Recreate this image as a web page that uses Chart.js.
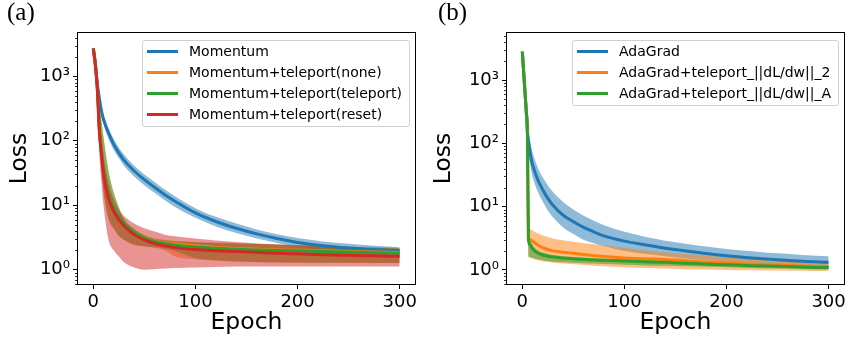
<!DOCTYPE html>
<html>
<head>
<meta charset="utf-8">
<script src="https://cdn.jsdelivr.net/npm/chart.js@4.4.1/dist/chart.umd.min.js"></script>
<style>
  body { margin: 0; background: #fff; }
  #wrap { position: relative; width: 849px; height: 337px; background: #fff; }
  canvas { position: absolute; top: 0; }
  .tag { position: absolute; top: -1px; font-family: "Liberation Serif", serif; font-size: 25px; line-height: 25px; color: #000; }
  .legend { position: absolute; top: 40px; border: 1px solid #d0d0d0; border-radius: 3px; background: rgba(255,255,255,0.8); padding-bottom: 1px; font-family: "DejaVu Sans", sans-serif; font-size: 14px; color: #000; }
  .legend .row { height: 21px; line-height: 21px; white-space: nowrap; display: flex; align-items: center; }
  .legend .sw { width: 31px; height: 3px; margin: 0 11px 0 4px; flex: none; }
</style>
</head>
<body>
<div id="wrap">
  <canvas id="chartA" width="424" height="337" style="left:0"></canvas>
  <canvas id="chartB" width="425" height="337" style="left:424px"></canvas>
  <div class="tag" style="left:7px">(a)</div>
  <div class="tag" style="left:438px">(b)</div>
  <div class="legend" id="legendA" style="left:142px;width:266px"></div>
  <div class="legend" id="legendB" style="left:572px;width:265px"></div>
</div>
<script>
"use strict";

// ---- data ----
const colors = ["#1f77b4", "#ff7f0e", "#2ca02c", "#d62728"];
const bandColors = ["rgba(31,119,180,0.5)", "rgba(255,127,14,0.5)", "rgba(44,160,44,0.5)", "rgba(214,39,40,0.5)"];

const xTicks = [0, 100, 200, 300];
const yTicks = [1, 10, 100, 1000];
const yTickLabels = ["10\u2070", "10\u00b9", "10\u00b2", "10\u00b3"];

// panel (a)
const namesA = ["Momentum", "Momentum+teleport(none)", "Momentum+teleport(teleport)", "Momentum+teleport(reset)"];
const epochsA = [0, 2, 4, 6, 8, 10, 15, 20, 25, 30, 40, 50, 60, 70, 80, 100, 120, 140, 160, 180, 200, 225, 250, 275, 300];
const momentum   = [2700, 1600, 750, 450, 290, 215, 130, 88, 65, 50, 34, 25, 19, 14.5, 11.5, 7.6, 5.6, 4.4, 3.6, 3.05, 2.65, 2.35, 2.17, 2.05, 1.96];
const momentumHi = [2900, 1750, 850, 520, 340, 255, 156, 106, 79, 61, 41, 30, 23, 17.5, 13.8, 9.0, 6.6, 5.2, 4.2, 3.55, 3.1, 2.75, 2.53, 2.36, 2.22];
const momentumLo = [2500, 1450, 650, 390, 245, 180, 108, 72, 54, 41, 28, 20.5, 15.6, 11.9, 9.4, 6.4, 4.7, 3.7, 3.05, 2.6, 2.28, 2.02, 1.87, 1.78, 1.72];
const none   = [2700, 1500, 650, 150, 70, 36, 14.5, 9, 6.6, 5.3, 3.85, 3.15, 2.8, 2.62, 2.5, 2.35, 2.22, 2.13, 2.07, 2.03, 2.0, 1.96, 1.92, 1.88, 1.85];
const noneHi = [2900, 1900, 1000, 400, 200, 110, 32, 15, 9, 6, 4.2, 3.4, 3.0, 2.85, 2.75, 2.65, 2.6, 2.55, 2.5, 2.45, 2.4, 2.33, 2.27, 2.2, 2.15];
const noneLo = [2500, 1300, 500, 90, 35, 16, 6, 4.3, 3.3, 2.9, 2.42, 2.3, 2.2, 2.0, 1.6, 1.45, 1.38, 1.33, 1.3, 1.29, 1.28, 1.28, 1.27, 1.27, 1.27];
const teleport   = [2700, 1500, 650, 150, 70, 36, 14.5, 9, 6.6, 5.3, 3.8, 3.1, 2.75, 2.55, 2.4, 2.25, 2.15, 2.08, 2.03, 1.99, 1.96, 1.92, 1.88, 1.84, 1.8];
const teleportHi = [2900, 1900, 1000, 420, 210, 115, 34, 16, 9.5, 6.2, 4.3, 3.45, 3.05, 2.9, 2.8, 2.7, 2.62, 2.57, 2.52, 2.47, 2.42, 2.35, 2.28, 2.22, 2.17];
const teleportLo = [2500, 1300, 500, 95, 38, 17, 6.3, 4.4, 3.4, 2.95, 2.45, 2.32, 2.22, 2.12, 1.95, 1.5, 1.4, 1.35, 1.32, 1.3, 1.29, 1.28, 1.28, 1.27, 1.27];
const reset   = [2700, 1500, 600, 130, 60, 30, 12.5, 8, 6, 4.8, 3.5, 2.9, 2.55, 2.35, 2.2, 2.05, 1.97, 1.92, 1.86, 1.8, 1.76, 1.71, 1.67, 1.64, 1.61];
const resetHi = [2900, 1800, 800, 250, 110, 60, 22, 12.5, 8.5, 6.8, 5.2, 4.4, 3.9, 3.5, 3.3, 3.05, 2.85, 2.7, 2.55, 2.45, 2.38, 2.3, 2.22, 2.15, 2.1];
const resetLo = [2500, 1200, 400, 60, 22, 10, 2.9, 2.0, 1.6, 1.3, 1.08, 1.0, 1.02, 1.04, 1.06, 1.08, 1.1, 1.12, 1.12, 1.12, 1.12, 1.12, 1.12, 1.12, 1.12];

// panel (b)
const namesB = ["AdaGrad", "AdaGrad+teleport_||dL/dw||_2", "AdaGrad+teleport_||dL/dw||_A"];
const epochsB = [0, 2, 4, 5, 6, 8, 10, 15, 20, 25, 30, 40, 50, 60, 70, 80, 100, 120, 140, 160, 180, 200, 225, 250, 275, 300];
const adagrad   = [2800, 900, 300, 150, 110, 65, 46, 27, 18.5, 13.5, 10.5, 7.3, 5.8, 4.7, 4.0, 3.45, 2.85, 2.5, 2.2, 2.0, 1.82, 1.68, 1.55, 1.45, 1.37, 1.32];
const adagradHi = [3000, 1000, 350, 230, 170, 100, 72, 42, 29, 21.5, 17, 11.8, 9.0, 7.2, 6.0, 5.1, 4.0, 3.35, 2.9, 2.6, 2.35, 2.15, 1.98, 1.83, 1.73, 1.65];
const adagradLo = [2600, 800, 250, 100, 72, 43, 30, 17.5, 12, 8.7, 6.8, 4.7, 3.7, 3.0, 2.65, 2.4, 2.0, 1.8, 1.65, 1.52, 1.43, 1.36, 1.28, 1.21, 1.16, 1.12];
const tele2   = [2800, 900, 300, 150, 3.2, 3.0, 2.85, 2.5, 2.25, 2.1, 2.0, 1.9, 1.83, 1.75, 1.68, 1.63, 1.55, 1.5, 1.46, 1.4, 1.34, 1.3, 1.24, 1.19, 1.15, 1.13];
const tele2Hi = [3000, 1000, 340, 180, 4.6, 4.4, 4.2, 3.8, 3.5, 3.3, 3.15, 2.95, 2.8, 2.65, 2.55, 2.45, 2.25, 2.05, 1.9, 1.78, 1.68, 1.6, 1.5, 1.42, 1.35, 1.3];
const tele2Lo = [2600, 800, 260, 125, 1.62, 1.55, 1.5, 1.42, 1.37, 1.33, 1.3, 1.26, 1.23, 1.2, 1.17, 1.14, 1.1, 1.07, 1.05, 1.03, 1.02, 1.0, 0.99, 0.98, 0.97, 0.96];
const teleA   = [2800, 900, 300, 150, 3.0, 2.45, 2.15, 1.85, 1.72, 1.65, 1.6, 1.55, 1.5, 1.47, 1.44, 1.42, 1.38, 1.35, 1.32, 1.28, 1.24, 1.21, 1.17, 1.14, 1.11, 1.09];
const teleAHi = [3000, 1000, 340, 180, 3.4, 2.9, 2.5, 2.05, 1.88, 1.78, 1.72, 1.65, 1.6, 1.56, 1.53, 1.5, 1.46, 1.42, 1.39, 1.35, 1.31, 1.28, 1.24, 1.2, 1.17, 1.15];
const teleALo = [2600, 800, 260, 125, 1.65, 1.6, 1.55, 1.47, 1.42, 1.38, 1.35, 1.32, 1.3, 1.28, 1.26, 1.24, 1.21, 1.18, 1.16, 1.14, 1.12, 1.1, 1.07, 1.05, 1.03, 1.02];

// ---- helpers ----
const pts = (xs, ys) => xs.map((x, i) => ({ x: x, y: ys[i] }));

const buildDatasets = function (epochs, series) {
   const sets = [];
   series.forEach((s, i) => {
      // band: lower edge, then upper edge filled down to it
      sets.push({ data: pts(epochs, s.lo), borderWidth: 0, fill: false, order: 200 - 2 * i });
      sets.push({ data: pts(epochs, s.hi), borderWidth: 0, fill: "-1", backgroundColor: bandColors[i], order: 199 - 2 * i });
   });
   series.forEach((s, i) => {
      sets.push({ data: pts(epochs, s.mid), borderColor: colors[i], borderWidth: 3, fill: false, order: 50 - i });
   });
   return sets;
};

// frame + minor log ticks
const framePlugin = {
   id: "frame",
   afterDraw(chart) {
      const { ctx, chartArea: a } = chart;
      const y = chart.scales.y;
      ctx.save();
      ctx.strokeStyle = "#000";
      ctx.lineWidth = 1;
      const l = Math.round(a.left) - 0.5, t = Math.round(a.top) - 0.5;
      const r = Math.round(a.right) + 0.5, b = Math.round(a.bottom) + 0.5;
      ctx.strokeRect(l, t, r - l, b - t);
      ctx.lineWidth = 0.8;
      for (let d = -1; d <= 3; d++) {
         for (let k = 2; k <= 9; k++) {
            const v = k * Math.pow(10, d);
            if (v < y.min || v > y.max) continue;
            const py = Math.round(y.getPixelForValue(v)) + 0.5;
            ctx.beginPath();
            ctx.moveTo(l - 2.5, py);
            ctx.lineTo(l, py);
            ctx.stroke();
         }
      }
      ctx.restore();
   },
};

const makeChart = function (id, datasets, yMin, yMax, yWidth, padRight) {
   const ctx = document.getElementById(id).getContext("2d");
   return new Chart(ctx, {
      type: "line",
      data: { datasets: datasets },
      plugins: [framePlugin],
      options: {
         responsive: false,
         animation: false,
         devicePixelRatio: 1,
         layout: { padding: { top: 33, right: padRight, left: 0, bottom: 0 } },
         elements: { point: { radius: 0 }, line: { cubicInterpolationMode: "monotone" } },
         plugins: { legend: { display: false }, tooltip: { enabled: false } },
         scales: {
            x: {
               type: "linear",
               min: -15,
               max: 315,
               afterBuildTicks: (scale) => { scale.ticks = xTicks.map((v) => ({ value: v })); },
               afterFit: (scale) => { scale.height = 53; },
               border: { display: false },
               grid: { drawOnChartArea: false, drawTicks: true, tickLength: 5, tickColor: "#000" },
               ticks: { color: "#000", padding: 3, maxRotation: 0, font: { family: "DejaVu Sans", size: 18 } },
               title: { display: true, text: "Epoch", color: "#000", padding: { top: 0, bottom: 0 }, font: { family: "DejaVu Sans", size: 23.5 } },
            },
            y: {
               type: "logarithmic",
               min: yMin,
               max: yMax,
               afterBuildTicks: (scale) => { scale.ticks = yTicks.map((v) => ({ value: v })); },
               afterFit: (scale) => { scale.width = yWidth; },
               border: { display: false },
               grid: { drawOnChartArea: false, drawTicks: true, tickLength: 5, tickColor: "#000" },
               ticks: { color: "#000", padding: 3, callback: (v, i) => yTickLabels[i], font: { family: "DejaVu Sans", size: 18 } },
               title: { display: true, text: "Loss", color: "#000", padding: { top: 6, bottom: 0 }, font: { family: "DejaVu Sans", size: 23.5 } },
            },
         },
      },
   });
};

const seriesA = [
   { mid: momentum, hi: momentumHi, lo: momentumLo },
   { mid: none, hi: noneHi, lo: noneLo },
   { mid: teleport, hi: teleportHi, lo: teleportLo },
   { mid: reset, hi: resetHi, lo: resetLo },
];
const seriesB = [
   { mid: adagrad, hi: adagradHi, lo: adagradLo },
   { mid: tele2, hi: tele2Hi, lo: tele2Lo },
   { mid: teleA, hi: teleAHi, lo: teleALo },
];

makeChart("chartA", buildDatasets(epochsA, seriesA), 0.647, 4700, 78, 9);
makeChart("chartB", buildDatasets(epochsB, seriesB), 0.601, 5525, 83, 5);

// legends
const fillLegend = function (id, names) {
   const box = document.getElementById(id);
   names.forEach((n, i) => {
      const row = document.createElement("div");
      row.className = "row";
      const sw = document.createElement("span");
      sw.className = "sw";
      sw.style.background = colors[i];
      const tx = document.createElement("span");
      tx.textContent = n;
      row.appendChild(sw);
      row.appendChild(tx);
      box.appendChild(row);
   });
};
fillLegend("legendA", namesA);
fillLegend("legendB", namesB);
</script>
</body>
</html>
